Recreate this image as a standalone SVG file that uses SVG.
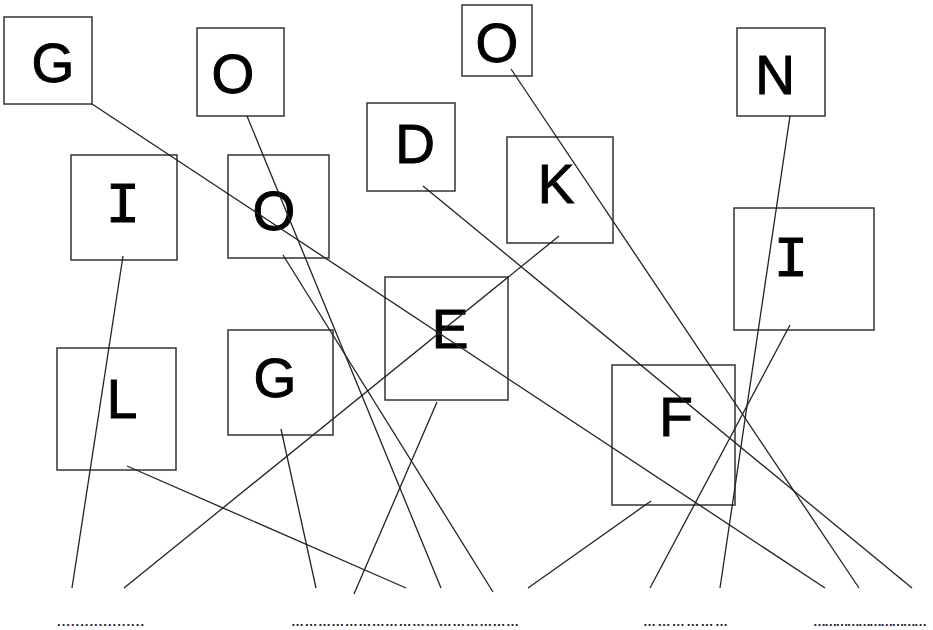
<svg xmlns="http://www.w3.org/2000/svg" width="933" height="630" viewBox="0 0 933 630">
<style>
.box{fill:none;stroke:#333;stroke-width:1.5}
.lt{font-family:"Liberation Sans",Arial,sans-serif;font-size:55px;fill:#000;stroke:#000;stroke-width:1;text-anchor:middle}
.li{font-family:"Liberation Mono","Courier New",monospace;font-size:58px;fill:#000;stroke:#000;stroke-width:1;text-anchor:middle}
.dots{font-family:"Liberation Sans",Arial,sans-serif;font-size:13px;fill:#223;font-weight:bold}
#connectors line{stroke:#222;stroke-width:1.3}
</style>
<rect width="933" height="630" fill="#fff"/>
<g id="n-G1"><rect class="box" x="4" y="17" width="88" height="87"/><text class="lt" x="53" y="82">G</text></g>
<g id="n-O2"><rect class="box" x="197" y="28" width="87" height="88"/><text class="lt" x="233" y="93">O</text></g>
<g id="n-I3"><rect class="box" x="71" y="155" width="106" height="105"/><text class="li" x="123" y="222">I</text></g>
<g id="n-O4"><rect class="box" x="228" y="155" width="101" height="103"/><text class="lt" x="274" y="230">O</text></g>
<g id="n-D5"><rect class="box" x="367" y="103" width="88" height="88"/><text class="lt" x="415" y="163">D</text></g>
<g id="n-O6"><rect class="box" x="462" y="5" width="70" height="71"/><text class="lt" x="497" y="62">O</text></g>
<g id="n-K7"><rect class="box" x="507" y="137" width="106" height="106"/><text class="lt" x="556" y="203">K</text></g>
<g id="n-N8"><rect class="box" x="737" y="28" width="88" height="88"/><text class="lt" x="775" y="94">N</text></g>
<g id="n-I9"><rect class="box" x="734" y="208" width="140" height="122"/><text class="li" x="791" y="276">I</text></g>
<g id="n-L10"><rect class="box" x="57" y="348" width="119" height="122"/><text class="lt" x="122" y="418">L</text></g>
<g id="n-G11"><rect class="box" x="228" y="330" width="105" height="105"/><text class="lt" x="275" y="397">G</text></g>
<g id="n-E12"><rect class="box" x="385" y="277" width="123" height="123"/><text class="lt" x="450" y="348">E</text></g>
<g id="n-F13"><rect class="box" x="612" y="365" width="123" height="140"/><text class="lt" x="676" y="436">F</text></g>
<g id="connectors">
<line x1="92" y1="104" x2="825" y2="588"/>
<line x1="247" y1="116" x2="441" y2="588"/>
<line x1="283" y1="255" x2="493" y2="592"/>
<line x1="123" y1="256" x2="72" y2="588"/>
<line x1="127" y1="466" x2="406" y2="588"/>
<line x1="559" y1="236" x2="124" y2="588"/>
<line x1="281" y1="429" x2="316" y2="588"/>
<line x1="437" y1="402" x2="354" y2="594"/>
<line x1="423" y1="186" x2="912" y2="588"/>
<line x1="511" y1="69" x2="859" y2="588"/>
<line x1="790" y1="116" x2="720" y2="588"/>
<line x1="790" y1="325" x2="650" y2="588"/>
<line x1="651" y1="501" x2="528" y2="588"/>
</g>
<g id="answers">
<text class="dots" x="57" y="626" textLength="87" lengthAdjust="spacing">...................</text>
<text class="dots" x="291" y="626" textLength="228" lengthAdjust="spacing">……………………………………………</text>
<text class="dots" x="643" y="626" textLength="85" lengthAdjust="spacing">………………</text>
<text class="dots" x="813" y="626" textLength="114" lengthAdjust="spacing">…………………………</text>
</g>
</svg>
